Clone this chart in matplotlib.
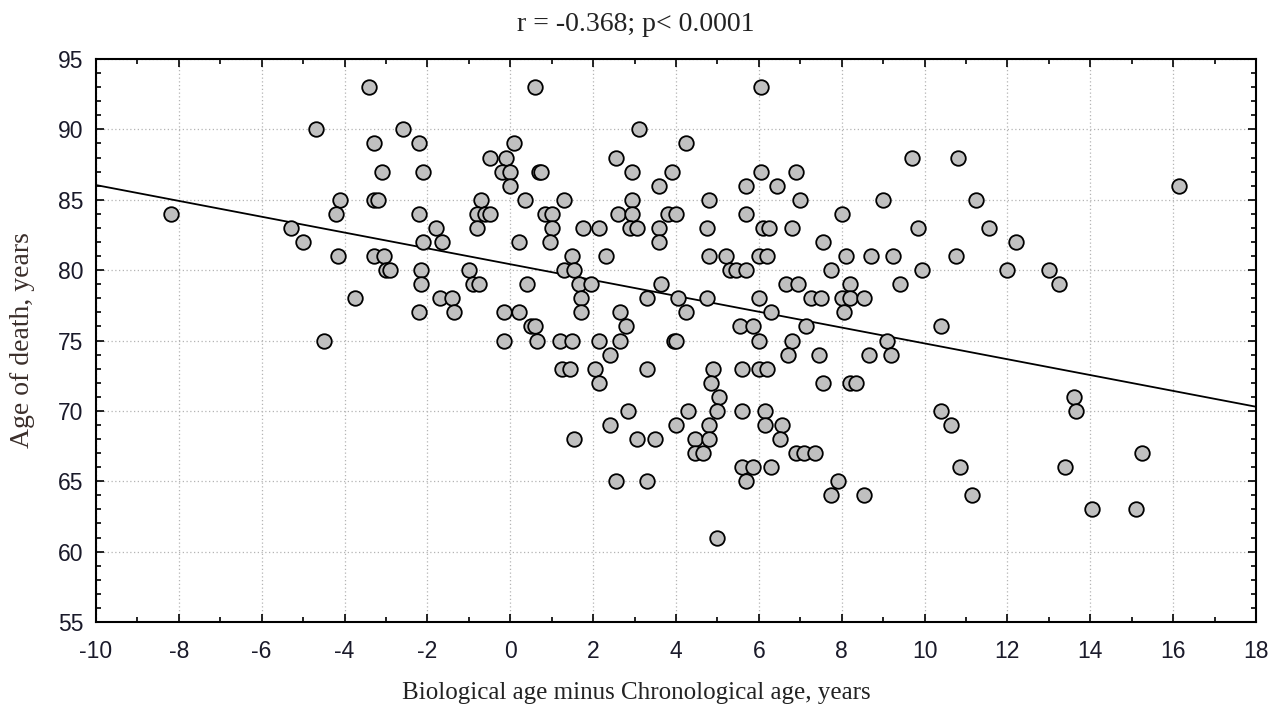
import numpy as np
import matplotlib
matplotlib.use("Agg")
import matplotlib.pyplot as plt
from matplotlib.ticker import MultipleLocator

plt.rcParams["axes.unicode_minus"] = False

# ─── Data ────────────────────────────────────────────────────────────────────
# x = biological age minus chronological age, y = age of death
age_93 = [-3.4, 0.6, 6.05]
age_90 = [-4.7, -2.6, 3.1]
age_89 = [-3.3, -2.2, 0.1, 4.25]
age_88 = [-0.5, -0.1, 2.55, 9.7, 10.8]
age_87 = [-3.1, -2.1, -0.2, 0.0, 0.7, 0.75, 2.95, 3.9, 6.05, 6.9]
age_86 = [0.0, 3.6, 5.7, 6.45, 16.15]
age_85 = [-4.1, -3.3, -3.2, -0.7, 0.35, 1.3, 2.95, 4.8, 7.0, 9.0, 11.25]
age_84 = [-8.2, -4.2, -2.2, -0.8, -0.6, -0.5, 0.85, 1.0, 2.6, 2.95, 3.8, 4.0,
          5.7, 8.0]
age_83 = [-5.3, -1.8, -0.8, 1.0, 1.75, 2.15, 2.9, 3.05, 3.6, 4.75, 6.1, 6.25,
          6.8, 9.85, 11.55]
age_82 = [-5.0, -2.1, -1.65, 0.2, 0.95, 3.6, 7.55, 12.2]
age_81 = [-4.15, -3.3, -3.05, 1.5, 2.3, 4.8, 5.2, 6.0, 6.2, 8.1, 8.7, 9.25,
          10.75]
age_80 = [-3.0, -2.9, -2.15, -1.0, 1.3, 1.55, 5.3, 5.45, 5.7, 7.75, 9.95,
          12.0, 13.0]
age_79 = [-2.15, -0.9, -0.75, 0.4, 1.65, 1.95, 3.65, 6.65, 6.95, 8.2, 9.4,
          13.25]
age_78 = [-3.75, -1.7, -1.4, 1.7, 3.3, 4.05, 4.75, 6.0, 7.25, 7.5, 8.0, 8.2,
          8.55]
age_77 = [-2.2, -1.35, -0.15, 0.2, 1.7, 2.65, 4.25, 6.3, 8.05]
age_76 = [0.5, 0.6, 2.8, 5.55, 5.85, 7.15, 10.4]
age_75 = [-4.5, -0.15, 0.65, 1.2, 1.5, 2.15, 2.65, 3.95, 4.0, 6.0, 6.8, 9.1]
age_74 = [2.4, 6.7, 7.45, 8.65, 9.2]
age_73 = [1.25, 1.45, 2.05, 3.3, 4.9, 5.6, 6.0, 6.2]
age_72 = [2.15, 4.85, 7.55, 8.2, 8.35]
age_71 = [5.05, 13.6]
age_70 = [2.85, 4.3, 5.0, 5.6, 6.15, 10.4, 13.65]
age_69 = [2.4, 4.0, 4.8, 6.15, 6.55, 10.65]
age_68 = [1.55, 3.05, 3.5, 4.45, 4.8, 6.5]
age_67 = [4.45, 4.65, 6.9, 7.1, 7.35, 15.25]
age_66 = [5.6, 5.85, 6.3, 10.85, 13.4]
age_65 = [2.55, 3.3, 5.7, 7.9]
age_64 = [7.75, 8.55, 11.15]
age_63 = [14.05, 15.1]
age_61 = [5.0]

rows = {93: age_93, 90: age_90, 89: age_89, 88: age_88, 87: age_87,
        86: age_86, 85: age_85, 84: age_84, 83: age_83, 82: age_82,
        81: age_81, 80: age_80, 79: age_79, 78: age_78, 77: age_77,
        76: age_76, 75: age_75, 74: age_74, 73: age_73, 72: age_72,
        71: age_71, 70: age_70, 69: age_69, 68: age_68, 67: age_67,
        66: age_66, 65: age_65, 64: age_64, 63: age_63, 61: age_61}

# regression line as printed on the chart
FIT_INTERCEPT = 80.42
FIT_SLOPE = -0.5625
FIT_RANGE = [-10, 18]

x_ticks = list(range(-10, 19, 2))
y_ticks = list(range(55, 96, 5))

TITLE = "r = -0.368; p< 0.0001"
XLABEL = "Biological age minus Chronological age, years"
YLABEL = "Age of death, years"

# ─── Plot ─────────────────────────────────────────────────────────────────────
xs = np.concatenate([np.asarray(v, float) for v in rows.values()])
ys = np.concatenate([np.full(len(v), k, float) for k, v in rows.items()])

fig = plt.figure(figsize=(12.71, 7.12), dpi=100)
ax = fig.add_axes([0.0755, 0.1264, 0.9127, 0.7907])

ax.grid(True, which="major", linestyle=(0, (1, 2)), color="#b4b4b4",
        linewidth=0.9, zorder=0)

fx = np.array(FIT_RANGE, float)
ax.plot(fx, FIT_INTERCEPT + FIT_SLOPE * fx, color="black", linewidth=1.3,
        zorder=2)

ax.scatter(xs, ys, s=110, facecolor="#c0c0c0", edgecolor="black",
           linewidth=1.3, zorder=3, clip_on=False)

ax.set_xlim(-10, 18)
ax.set_ylim(55, 95)
ax.set_xticks(x_ticks)
ax.set_yticks(y_ticks)
ax.xaxis.set_minor_locator(MultipleLocator(1))
ax.yaxis.set_minor_locator(MultipleLocator(1))
ax.tick_params(which="both", direction="in", top=True, right=True,
               width=1.2, color="black")
ax.tick_params(which="major", length=6)
ax.tick_params(which="minor", length=3.5)
ax.tick_params(axis="x", which="major", pad=13)
ax.tick_params(axis="y", which="major", pad=9)
for lab in ax.get_xticklabels() + ax.get_yticklabels():
    lab.set_fontfamily("Liberation Sans")
    lab.set_fontsize(16.5)
    lab.set_color("#1a1a2a")

for sp in ax.spines.values():
    sp.set_linewidth(1.5)
    sp.set_color("black")

serif = "Liberation Serif"
fig.text(0.5, 0.965, TITLE, ha="center", va="center", fontsize=20,
         family=serif, color="#222222")
fig.text(0.501, 0.027, XLABEL, ha="center", va="center", fontsize=18,
         family=serif, color="#222222")
fig.text(0.018, 0.522, YLABEL, ha="center", va="center", rotation=90,
         fontsize=20, family=serif, color="#3a2e2a")

fig.savefig("out.png", dpi=100)
